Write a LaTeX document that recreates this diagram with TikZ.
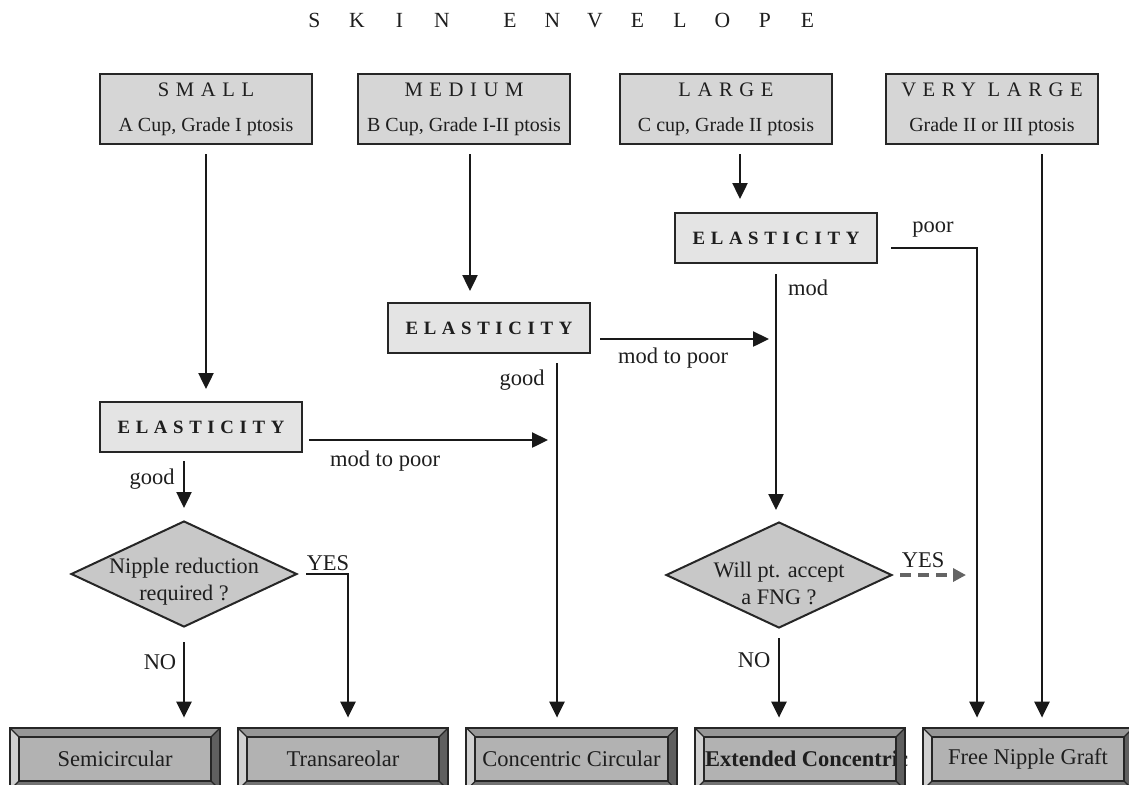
\documentclass[tikz,border=0pt]{standalone}
\usepackage{fontspec}
\setmainfont{Liberation Serif}
\newfontfamily\spacedfont[LetterSpace=32]{Liberation Serif}
\newfontfamily\elasfont[LetterSpace=30]{Liberation Serif}
\usetikzlibrary{shapes.geometric,arrows.meta,calc}
\definecolor{topfill}{RGB}{214,214,214}
\definecolor{elasfill}{RGB}{228,228,228}
\definecolor{diafill}{RGB}{200,200,200}
\definecolor{facefill}{RGB}{178,178,178}
\definecolor{bvtop}{RGB}{150,150,150}
\definecolor{bvleft}{RGB}{208,208,208}
\definecolor{bvright}{RGB}{95,95,95}
\definecolor{bvbot}{RGB}{115,115,115}
\definecolor{txt}{RGB}{30,30,30}
\definecolor{dashgray}{RGB}{100,100,100}
\newcommand{\tl}[1]{\makebox[21.25pt]{#1}}
\newcommand{\hdr}{\fontsize{10.3}{17.5}\selectfont\spacedfont}
\begin{document}
\begin{tikzpicture}[x=0.5pt,y=-0.5pt,
  every node/.style={text=txt},
  topbox/.style={draw=black!85, line width=1pt, fill=topfill, minimum width=106pt, minimum height=35pt, inner sep=0pt, align=center, font=\fontsize{10}{17.5}\selectfont},
  elasbox/.style={draw=black!85, line width=1pt, fill=elasfill, minimum width=101pt, minimum height=25pt, inner sep=0pt, font=\fontsize{9.4}{10}\selectfont\elasfont\bfseries},
  dia/.style={diamond, draw=black!85, line width=1pt, fill=diafill, minimum width=113pt, minimum height=53pt, inner sep=0pt},
  diatext/.style={align=center, inner sep=0pt, font=\fontsize{11.1}{13.5}\selectfont},
  botbox/.style={fill=facefill, minimum width=105pt, minimum height=31pt, inner sep=0pt, font=\fontsize{11.25}{13}\selectfont},
  lbl/.style={inner sep=0pt, font=\fontsize{11.25}{13}\selectfont},
  arr/.style={line width=1.2pt, draw=black!90, -{Triangle[length=8pt,width=7.5pt]}},
  dasharr/.style={line width=1.6pt, draw=dashgray, dash pattern=on 5.5pt off 3.5pt, -{Triangle[length=6.5pt,width=6.5pt,fill=dashgray]}}
]
\useasboundingbox (0,0) rectangle (1129,784);
\clip (0,0) rectangle (1129,784);

% title
\node[font=\fontsize{10.8}{12}\selectfont] (title) at (561,21)
  {\tl{S}\tl{K}\tl{I}\tl{N}\hspace{12.75pt}\tl{E}\tl{N}\tl{V}\tl{E}\tl{L}\tl{O}\tl{P}\tl{E}};

% top boxes
\node[topbox] (small)  at (206,109) {{\hdr SMALL}\\A Cup, Grade I ptosis};
\node[topbox] (medium) at (464,109) {{\hdr MEDIUM}\\B Cup, Grade I-II ptosis};
\node[topbox] (large)  at (726,109) {{\hdr LARGE}\\C cup, Grade II ptosis};
\node[topbox] (vlarge) at (992,109) {{\hdr VERY LARGE}\\Grade II or III ptosis};

% elasticity boxes
\node[elasbox] (e1) at (201,427) {ELASTICITY};
\node[elasbox] (e2) at (489,328) {ELASTICITY};
\node[elasbox] (e3) at (776,238) {ELASTICITY};

% diamonds
\node[dia] (d1) at (184,574) {};
\node[diatext] (d1t) at (184,582) {Nipple reduction\\required ?};
\node[dia] (d2) at (779,575) {};
\node[diatext] (d2t) at (779,583) {Will pt. accept\\a FNG ?};

% bottom boxes
\node[botbox] (semi)  at (115,759) {Semicircular};
\node[botbox] (trans) at (343,759) {Transareolar};
\node[botbox] (conc)  at (571.5,759) {Concentric Circular};
\node[botbox] (ext)   at (800,759) {\makebox[95pt][l]{\bfseries Extended Concentric}};
\node[botbox] (fng)   at (1028,759) {Free Nipple Graft};

% bevels
\foreach \n in {semi,trans,conc,ext,fng}{
  \fill[bvtop] (\n.north west) -- (\n.north east) -- ($(\n.north east)+(-9,9)$) -- ($(\n.north west)+(9,9)$) -- cycle;
  \fill[bvbot] (\n.south west) -- (\n.south east) -- ($(\n.south east)+(-9,-9)$) -- ($(\n.south west)+(9,-9)$) -- cycle;
  \fill[bvleft] (\n.north west) -- ($(\n.north west)+(9,9)$) -- ($(\n.south west)+(9,-9)$) -- (\n.south west) -- cycle;
  \fill[bvright] (\n.north east) -- ($(\n.north east)+(-9,9)$) -- ($(\n.south east)+(-9,-9)$) -- (\n.south east) -- cycle;
  \draw[line width=1pt, black!85] (\n.north west) rectangle (\n.south east);
  \draw[line width=1pt, black!85] ($(\n.north west)+(9,9)$) rectangle ($(\n.south east)+(-9,-9)$);
  \draw[line width=0.6pt, black!85] (\n.north west) -- ($(\n.north west)+(9,9)$)
    (\n.north east) -- ($(\n.north east)+(-9,9)$)
    (\n.south west) -- ($(\n.south west)+(9,-9)$)
    (\n.south east) -- ($(\n.south east)+(-9,-9)$);
}

% helper coordinates
\coordinate (c1) at ([xshift=34pt]e2.south);
\coordinate (yes2) at (966,575);

% connectors from top boxes
\draw[arr, shorten <=4.5pt, shorten >=6pt] (small.south) -- (small.south |- e1.north);
\draw[arr, shorten <=4.5pt, shorten >=5.5pt] ([xshift=3pt]medium.south) -- ([xshift=3pt]medium.south |- e2.north);
\draw[arr, shorten <=4.5pt, shorten >=6.5pt] ([xshift=7pt]large.south) -- ([xshift=7pt]large.south |- e3.north);
\draw[arr, shorten <=4.5pt, shorten >=5pt] ([xshift=25pt]vlarge.south) -- ([xshift=25pt]vlarge.south |- fng.north);

% small branch
\draw[arr, shorten <=4pt, shorten >=6pt] (d1.north |- e1.south) -- (d1.north);
\draw[arr, shorten <=3pt, shorten >=4.5pt] ([yshift=-6.5pt]e1.east) -- ([yshift=-6.5pt]e1.east -| c1);
\draw[arr, shorten <=4pt, shorten >=5pt] (d1.east) -| ([xshift=2.5pt]trans.north);
\draw[arr, shorten <=7pt, shorten >=5pt] (d1.south) -- (d1.south |- semi.north);

% medium branch
\draw[arr, shorten <=4.5pt, shorten >=5pt] (c1) -- (c1 |- conc.north);
\draw[arr, shorten <=4.5pt, shorten >=3.5pt] ([yshift=-5.5pt]e2.east) -- ([yshift=-5.5pt]e2.east -| e3.south);

% large branch
\draw[arr, shorten <=5pt, shorten >=5.5pt] (e3.south) -- (e3.south |- d2.north);
\draw[arr, shorten <=6.5pt, shorten >=5pt] ([yshift=-5pt]e3.east) -| ([xshift=-25.5pt]fng.north);
\draw[dasharr, shorten <=3.5pt] (d2.east) -- (yes2);
\draw[arr, shorten <=4.5pt, shorten >=5pt] (d2.south) -- (d2.south |- ext.north);

% labels
\node[lbl] (lgood1) at (152,479) {good};
\node[lbl] (lmtp1)  at (385,461) {mod to poor};
\node[lbl] (lgood2) at (522,380) {good};
\node[lbl] (lmtp2)  at (673,358) {mod to poor};
\node[lbl] (lpoor)  at (933,230) {poor};
\node[lbl] (lmod)   at (808,288) {mod};
\node[lbl] (lyes1)  at (328,563) {YES};
\node[lbl] (lno1)   at (160,662) {NO};
\node[lbl] (lyes2)  at (923,560) {YES};
\node[lbl] (lno2)   at (754,660) {NO};
\end{tikzpicture}
\end{document}
